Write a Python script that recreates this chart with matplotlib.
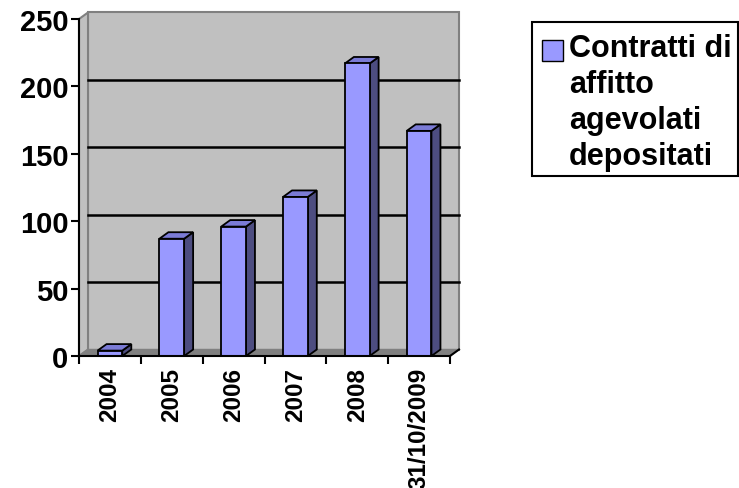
import matplotlib
matplotlib.use("Agg")
import matplotlib.pyplot as plt
from matplotlib.patches import Polygon, Rectangle

plt.rcParams['font.family'] = ['Liberation Sans', 'DejaVu Sans']
plt.rcParams['font.weight'] = 'bold'

# dati
categories = ["2004", "2005", "2006", "2007", "2008", "31/10/2009"]
values = [4, 87, 96, 118, 217, 167]
y_ticks = [0, 50, 100, 150, 200, 250]
legend_lines = ["Contratti di", "affitto", "agevolati", "depositati"]

W, H = 739, 489
fig = plt.figure(figsize=(W / 100, H / 100), dpi=100)

def fx(px):
    return px / W

def fy(py):
    return 1 - py / H

# area del grafico (piano frontale)
ax = fig.add_axes([fx(79), fy(357), fx(450) - fx(79), fy(20) - fy(357)])
n = len(categories)
ymax = 250
ax.set_xlim(0, n)
ax.set_ylim(0, ymax)

# profondita' 3D in pixel -> unita' dati
DX, DY = 9, 6.5
px_per_cat = (450 - 79) / n
px_per_val = (357 - 20) / ymax
dx = DX / px_per_cat
dy = DY / px_per_val

wall_c = "#C0C0C0"
floor_c = "#808080"
edge_g = "#808080"

# parete di fondo
ax.add_patch(Polygon([(dx, dy), (n + dx, dy), (n + dx, ymax + dy), (dx, ymax + dy)],
                     closed=True, fc=wall_c, ec=edge_g, lw=1.5, clip_on=False, zorder=1))
# parete laterale
ax.add_patch(Polygon([(0, 0), (dx, dy), (dx, ymax + dy), (0, ymax)],
                     closed=True, fc=wall_c, ec=edge_g, lw=1.5, clip_on=False, zorder=1))
# pavimento
ax.add_patch(Polygon([(0, 0), (n, 0), (n + dx, dy), (dx, dy)],
                     closed=True, fc=floor_c, ec=edge_g, lw=1, clip_on=False, zorder=1.5))
ax.plot([n, n + dx], [0, dy], color="black", lw=1.5, clip_on=False, zorder=2)

# griglia sulla parete di fondo
for t in y_ticks[1:-1]:
    ax.plot([dx, n + dx], [t + dy, t + dy], color="black", lw=1.8, clip_on=False, zorder=2)

# barre
bw = 0.4
front_c = "#9999FF"
top_c = "#7B7BD6"
side_c = "#4D4D80"
for i, v in enumerate(values):
    x0 = i + 0.5 - bw / 2
    x1 = i + 0.5 + bw / 2
    ax.add_patch(Polygon([(x1, 0), (x1 + dx, dy), (x1 + dx, v + dy), (x1, v)],
                         closed=True, fc=side_c, ec="black", lw=1.3, clip_on=False, zorder=3))
    ax.add_patch(Polygon([(x0, v), (x1, v), (x1 + dx, v + dy), (x0 + dx, v + dy)],
                         closed=True, fc=top_c, ec="black", lw=1.3, clip_on=False, zorder=3))
    ax.add_patch(Rectangle((x0, 0), bw, v, fc=front_c, ec="black", lw=1.3,
                           clip_on=False, zorder=4))

ax.set_facecolor("none")
for s in ["top", "right"]:
    ax.spines[s].set_visible(False)
for s in ["left", "bottom"]:
    ax.spines[s].set_linewidth(1.5)
    ax.spines[s].set_zorder(5)

ax.set_yticks(y_ticks)
ax.set_yticklabels([str(t) for t in y_ticks], fontsize=21, fontweight="bold")
ax.tick_params(axis="y", direction="out", length=5.5, width=1.5, pad=2)

ax.set_xticks([i + 0.5 for i in range(n)])
ax.set_xticklabels(categories, rotation=90, fontsize=17.5, fontweight="bold")
ax.set_xticks(range(n + 1), minor=True)
ax.tick_params(axis="x", which="major", length=0, pad=8)
ax.tick_params(axis="x", which="minor", direction="out", length=5.5, width=1.5)

# legenda
fig.patches.append(Rectangle((fx(532), fy(177)), fx(738) - fx(532), fy(23) - fy(177),
                             transform=fig.transFigure, fc="white", ec="black", lw=1.5))
fig.patches.append(Rectangle((fx(542), fy(62)), fx(563) - fx(542), fy(41) - fy(62),
                             transform=fig.transFigure, fc=front_c, ec="black", lw=1))
baselines = [57, 93, 129, 165.5]
for txt, b in zip(legend_lines, baselines):
    fig.text(fx(569), fy(b), txt, fontsize=22, fontweight="bold", va="baseline", ha="left")

fig.savefig("out.png", dpi=100)
